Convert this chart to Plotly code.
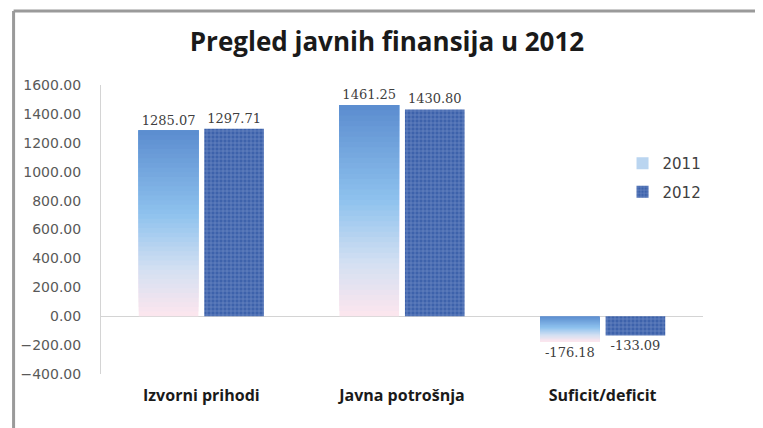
import plotly.graph_objects as go

categories = ["Izvorni prihodi", "Javna potrošnja", "Suficit/deficit"]
values_2011 = [1285.07, 1461.25, -176.18]
values_2012 = [1297.71, 1430.80, -133.09]
series_names = ["2011", "2012"]
y_ticks = [-400, -200, 0, 200, 400, 600, 800, 1000, 1200, 1400, 1600]

# gradient stops: fraction measured from bar top (0) to bar bottom (1)
stops = [(0.0, (91, 140, 207)), (0.45, (142, 194, 238)), (0.75, (212, 224, 242)), (1.0, (253, 230, 238))]


def grad(t):
    for (t0, c0), (t1, c1) in zip(stops[:-1], stops[1:]):
        if t <= t1:
            f = (t - t0) / (t1 - t0)
            c = [round(a + (b - a) * f) for a, b in zip(c0, c1)]
            return "rgb(%d,%d,%d)" % tuple(c)
    return "rgb(%d,%d,%d)" % stops[-1][1]


fig = go.Figure()
N = 40
for k in range(N):
    cols = []
    for v in values_2011:
        mid = (k + 0.5) / N  # fraction from zero toward the bar end
        t = 1 - mid if v >= 0 else mid
        cols.append(grad(t))
    last = k == N - 1
    # each layer runs from its start to the bar end; later layers cover the rest
    fig.add_trace(go.Bar(
        x=categories,
        y=[v * (N - k) / N for v in values_2011],
        base=[v * k / N for v in values_2011],
        offsetgroup="a",
        legendgroup="a",
        name=series_names[0],
        showlegend=(k == 14),
        marker=dict(color=cols, line=dict(width=0)),
        text=["%.2f" % v for v in values_2011] if last else None,
        textposition="outside" if last else "none",
        constraintext="none",
        cliponaxis=False,
        textfont=dict(family="DejaVu Serif", size=13, color="#404040"),
    ))

fig.add_trace(go.Bar(
    x=categories,
    y=values_2012,
    offsetgroup="b",
    legendgroup="b",
    name=series_names[1],
    marker=dict(
        color="#3c63ae",
        line=dict(width=0),
        pattern=dict(shape="+", bgcolor="#3d62ab", fgcolor="#a3b9e0", size=4, solidity=0.3, fillmode="overlay"),
    ),
    text=["%.2f" % v for v in values_2012],
    textposition="outside",
    constraintext="none",
    cliponaxis=False,
    textfont=dict(family="DejaVu Serif", size=13, color="#404040"),
))

# the page body adds an 8px offset, so layout pixels are shifted
OFFX, OFFY = 8, 8
L, T = 97 - OFFX, 85 - OFFY
W, H = 763 - OFFX, 428 - OFFY
pw = 606
ph = 289


def px_x(p):
    return (p - OFFX - L) / pw


def px_y(p):
    return 1 - (p - OFFY - T) / ph


fig.update_layout(
    width=W, height=H,
    margin=dict(l=L, r=W - L - pw, t=T, b=H - T - ph),
    paper_bgcolor="white", plot_bgcolor="white",
    barmode="group", bargap=0.347, bargroupgap=0.09,
    title=dict(text="<b>Pregled javnih finansija u 2012</b>", x=(387 - OFFX) / W, xanchor="center",
               y=1 - (42 - OFFY) / H, yanchor="middle",
               font=dict(family="Open Sans", size=26, color="#1a1a1a")),
    legend=dict(x=px_x(622), y=px_y(147), xanchor="left", yanchor="top",
                traceorder="grouped", tracegroupgap=6,
                font=dict(family="DejaVu Sans", size=15, color="#404040"),
                bgcolor="rgba(0,0,0,0)"),
    xaxis=dict(showline=False, ticks="", showgrid=False, ticklabelstandoff=10,
               tickfont=dict(family="Open Sans", size=16, color="#1a1a1a"),
               tickvals=categories,
               ticktext=["<b>%s</b>" % c for c in categories]),
    yaxis=dict(range=[-400, 1600], tickvals=y_ticks, tickformat=".2f",
               showgrid=False, zeroline=True, zerolinecolor="#d4d4d4", zerolinewidth=1,
               showline=True, linecolor="#d4d4d4", linewidth=1, ticks="",
               ticklabelstandoff=16,
               tickfont=dict(family="DejaVu Sans", size=14, color="#595959")),
    hovermode=False,
    shapes=[
        dict(type="line", xref="paper", yref="paper", x0=px_x(9), x1=px_x(900),
             y0=px_y(11), y1=px_y(11), line=dict(color="#9a9a9a", width=3)),
        dict(type="line", xref="paper", yref="paper", x0=px_x(9), x1=px_x(9),
             y0=px_y(11), y1=px_y(520), line=dict(color="#9a9a9a", width=3)),
    ],
)

fig.write_html("out.html")
